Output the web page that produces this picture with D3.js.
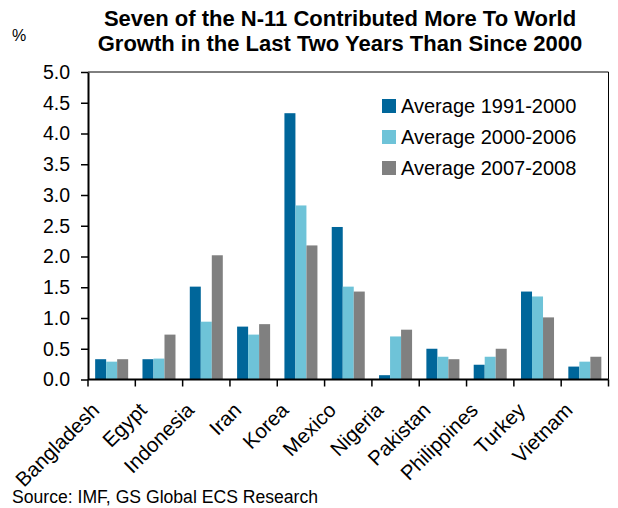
<!DOCTYPE html>
<html>
<head>
<meta charset="utf-8">
<script src="https://cdn.jsdelivr.net/npm/d3@7"></script>
<style>
  html, body { margin: 0; padding: 0; background: #fff; }
  svg { display: block; }
  text { font-family: "Liberation Sans", Arial, sans-serif; fill: #000; }
</style>
</head>
<body>
<svg id="chart" width="618" height="508"></svg>
<script>
const categories = ["Bangladesh","Egypt","Indonesia","Iran","Korea","Mexico","Nigeria","Pakistan","Philippines","Turkey","Vietnam"];
const seriesNames = ["Average 1991-2000","Average 2000-2006","Average 2007-2008"];
const avg1991_2000 = [0.33,0.33,1.51,0.86,4.33,2.48,0.07,0.50,0.24,1.43,0.21];
const avg2000_2006 = [0.29,0.34,0.94,0.73,2.83,1.51,0.70,0.37,0.37,1.35,0.29];
const avg2007_2008 = [0.33,0.73,2.02,0.90,2.18,1.43,0.81,0.33,0.50,1.01,0.37];
const yTicks = [0,0.5,1,1.5,2,2.5,3,3.5,4,4.5,5];
const colors = ["#00669A","#6EC3D8","#808080"];
const titleLines = ["Seven of the N-11 Contributed More To World","Growth in the Last Two Years Than Since 2000"];

const series = [avg1991_2000, avg2000_2006, avg2007_2008];
const svg = d3.select("#chart");
const mLeft = 88, mRight = 608.5, mTop = 72, mBottom = 379.5;

const x0 = d3.scaleBand().domain(categories).range([mLeft, mRight]).padding(0);
const x1 = d3.scaleBand().domain(seriesNames).range([0, x0.bandwidth()]).paddingInner(0).paddingOuter(0.65);
const y = d3.scaleLinear().domain([0, 5]).range([mBottom, mTop]);

// Title
svg.append("g").selectAll("text").data(titleLines).join("text")
  .attr("x", 340).attr("y", (d, i) => 26 + i * 25)
  .attr("text-anchor", "middle")
  .style("font-weight", "bold").style("font-size", "22px")
  .text(d => d);

svg.append("text").attr("x", 12).attr("y", 41).style("font-size", "16px").text("%");

// Bars
const groups = svg.append("g").selectAll("g").data(categories).join("g")
  .attr("transform", d => `translate(${x0(d)},0)`);
groups.selectAll("rect")
  .data((d, i) => seriesNames.map((s, j) => ({ s, j, v: series[j][i] })))
  .join("rect")
  .attr("x", d => x1(d.s))
  .attr("width", x1.bandwidth())
  .attr("y", d => y(d.v))
  .attr("height", d => y(0) - y(d.v))
  .attr("fill", d => colors[d.j]);

// Frame top/right
svg.append("line").attr("x1", mLeft).attr("x2", mRight).attr("y1", mTop).attr("y2", mTop).attr("stroke", "#000").attr("stroke-width", 1);
svg.append("line").attr("x1", mRight).attr("x2", mRight).attr("y1", mTop).attr("y2", mBottom).attr("stroke", "#000").attr("stroke-width", 1);

// Y axis
const yAxis = svg.append("g").attr("transform", `translate(${mLeft},0)`)
  .call(d3.axisLeft(y).tickValues(yTicks).tickFormat(d3.format(".1f")).tickSize(7).tickPadding(11).tickSizeOuter(0));
yAxis.select(".domain").attr("stroke-width", 2);
yAxis.selectAll(".tick line").attr("stroke-width", 1.5);
yAxis.selectAll("text").style("font-size", "19.5px").style("font-family", "Liberation Sans, Arial, sans-serif").attr("fill", "#000");

// X axis
const boundaries = categories.map(c => x0(c)).concat([mRight]);
const xAxis = svg.append("g");
xAxis.append("line").attr("x1", mLeft).attr("x2", mRight).attr("y1", mBottom).attr("y2", mBottom).attr("stroke", "#000").attr("stroke-width", 2);
xAxis.selectAll("line.tk").data(boundaries).join("line").attr("class", "tk")
  .attr("x1", d => d).attr("x2", d => d).attr("y1", mBottom).attr("y2", mBottom + 7)
  .attr("stroke", "#000").attr("stroke-width", 1.5);
xAxis.selectAll("text").data(categories).join("text")
  .attr("transform", d => `translate(${x0(d) + x0.bandwidth() / 2 - 11},${mBottom + 32}) rotate(-45)`)
  .attr("text-anchor", "end")
  .style("font-size", "20.5px")
  .text(d => d);

// Legend
const legend = svg.append("g").attr("transform", "translate(382,99)");
const li = legend.selectAll("g").data(seriesNames).join("g").attr("transform", (d, i) => `translate(0,${i * 31})`);
li.append("rect").attr("width", 14).attr("height", 14).attr("fill", (d, i) => colors[i]);
li.append("text").attr("x", 19).attr("y", 14).style("font-size", "20px").text(d => d);

// Source
svg.append("text").attr("x", 12).attr("y", 503).style("font-size", "17.6px").text("Source: IMF, GS Global ECS Research");
</script>
</body>
</html>
